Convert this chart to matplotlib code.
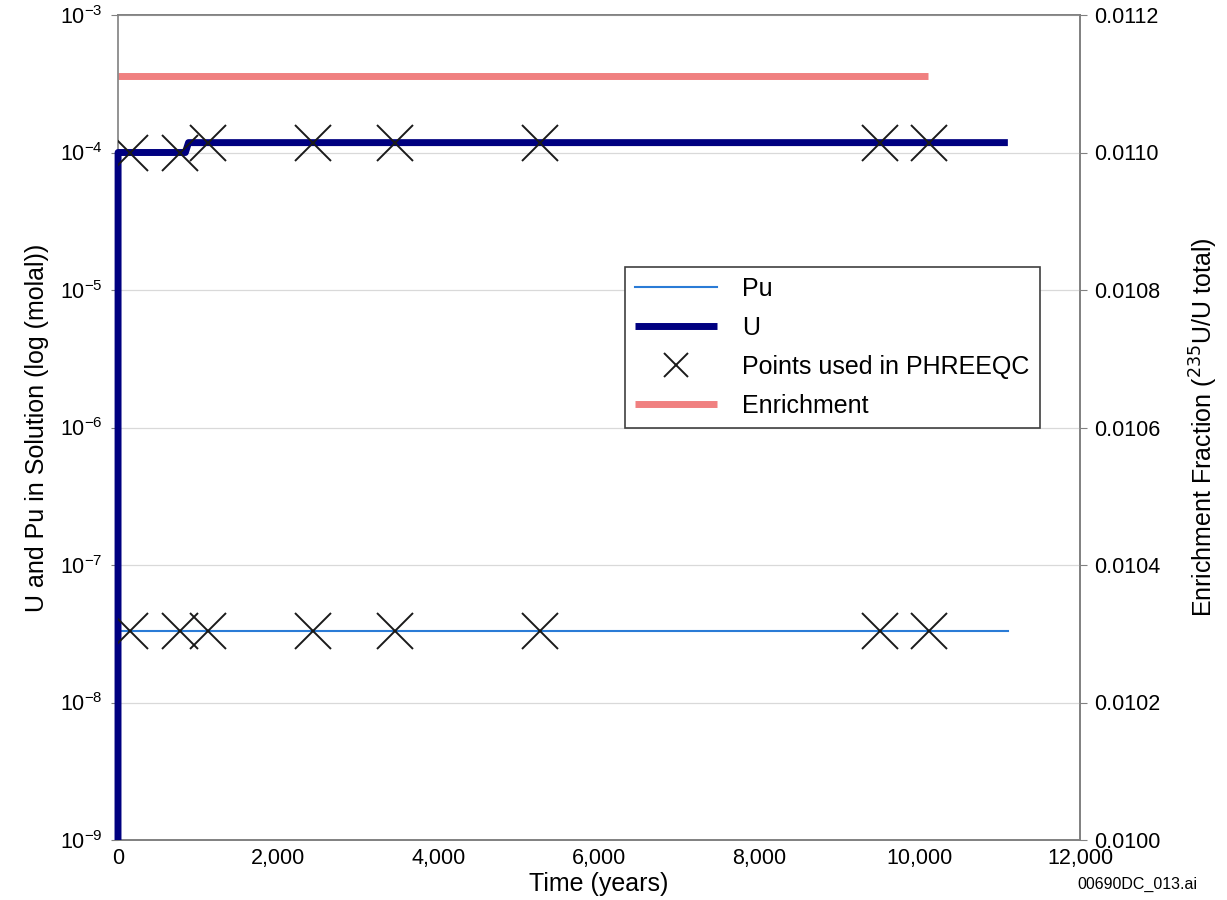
import numpy as np
import matplotlib.pyplot as plt
from matplotlib.ticker import FuncFormatter, LogLocator

plt.rcParams['font.family'] = ['Liberation Sans', 'DejaVu Sans']

# U concentration (molal) vs time (years)
u_time = [0, 1, 840, 880, 11100]
u_conc = [1e-9, 1.0e-4, 1.0e-4, 1.18e-4, 1.18e-4]

# Pu concentration (molal)
pu_time = [0, 11100]
pu_conc = [3.3e-8, 3.3e-8]

# points used in PHREEQC
pt_time = [150, 770, 1120, 2430, 3450, 5270, 9500, 10120]
pt_u = [1.0e-4, 1.0e-4, 1.18e-4, 1.18e-4, 1.18e-4, 1.18e-4, 1.18e-4, 1.18e-4]
pt_pu = [3.3e-8] * len(pt_time)

# enrichment fraction
enr_time = [0, 10100]
enr_val = [0.011112, 0.011112]

fig = plt.figure(figsize=(12.27, 9), dpi=100)
ax = fig.add_axes([118 / 1227, 60 / 900, 962 / 1227, 825 / 900])
ax2 = ax.twinx()
ax2.set_zorder(ax.get_zorder() - 1)
ax.patch.set_visible(False)

ax.plot(pu_time, pu_conc, color='#2a7bd6', lw=1.5, zorder=3, label='Pu')
ax.plot(u_time, u_conc, color='#000080', lw=5, zorder=4, solid_capstyle='butt',
        clip_on=False, label='U')
ax.plot(pt_time, pt_u, ls='none', marker='x', ms=26, mew=1.4, color='#1a1a1a', zorder=5,
        label='Points used in PHREEQC')
ax.plot(pt_time, pt_pu, ls='none', marker='x', ms=26, mew=1.4, color='#1a1a1a', zorder=5)
ax2.plot(enr_time, enr_val, color='#f08080', lw=5, solid_capstyle='butt', label='Enrichment')

ax.set_yscale('log')
ax.set_ylim(1e-9, 1e-3)
ax.set_xlim(0, 12000)
ax.yaxis.set_major_locator(LogLocator(base=10, numticks=10))
ax.yaxis.set_minor_locator(plt.NullLocator())
ax.set_xticks(np.arange(0, 12001, 2000))
ax.xaxis.set_major_formatter(FuncFormatter(lambda v, p: f'{int(v):,}'))
ax.grid(axis='y', color='#d9d9d9', lw=0.9, zorder=0)

ax2.set_ylim(0.0100, 0.0112)
ax2.set_yticks(np.arange(0.0100, 0.01121, 0.0002))
ax2.yaxis.set_major_formatter(FuncFormatter(lambda v, p: f'{v:.4f}'))

for a in (ax, ax2):
    for s in a.spines.values():
        s.set_color('#808080')
        s.set_linewidth(1.2)
    a.tick_params(labelsize=15.5, length=5, color='#808080')
ax2.spines['left'].set_visible(False)
ax.spines['left'].set_zorder(3)
ax.tick_params(axis='x', length=0, pad=6)
ax.tick_params(axis='y', pad=6)
ax2.tick_params(axis='y', pad=5)

ax.set_xlabel('Time (years)', fontsize=18, labelpad=2)
ax.set_ylabel('U and Pu in Solution (log (molal))', fontsize=18, labelpad=8)
ax2.set_ylabel('Enrichment Fraction ($^{235}$U/U total)', fontsize=18, labelpad=20)

h1, l1 = ax.get_legend_handles_labels()
h2, l2 = ax2.get_legend_handles_labels()
leg = ax.legend(h1 + h2, l1 + l2, loc='upper left', bbox_to_anchor=(0.527, 0.695),
                fontsize=18, frameon=True, fancybox=False, edgecolor='#404040',
                framealpha=1, borderpad=0.4, borderaxespad=0, handlelength=3.3,
                handletextpad=1.0, labelspacing=0.6, markerscale=0.65)
leg.get_frame().set_linewidth(1.2)
leg.set_zorder(10)

fig.text(1197 / 1227, 8 / 900, '00690DC_013.ai', ha='right', va='bottom', fontsize=11.5)

fig.savefig('out.png', dpi=100)
